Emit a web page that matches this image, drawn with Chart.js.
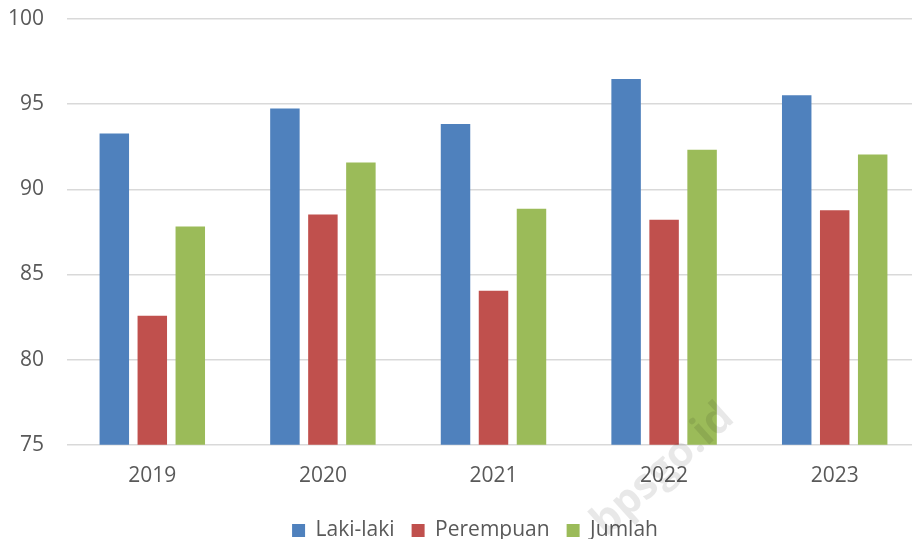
<!DOCTYPE html>
<html>
<head>
<meta charset="utf-8">
<script src="https://cdn.jsdelivr.net/npm/chart.js@4.4.1/dist/chart.umd.min.js"></script>
<style>
  html, body { margin: 0; padding: 0; background: #fff; overflow: hidden; }
  #wrap { position: relative; width: 950px; height: 539px; }
</style>
</head>
<body>
<div id="wrap"><canvas id="chart"></canvas></div>
<script>
// data per tahun
const tahun = ['2019', '2020', '2021', '2022', '2023'];
const lakiLaki = [93.28, 94.75, 93.84, 96.48, 95.52];
const perempuan = [82.58, 88.52, 84.04, 88.21, 88.77];
const jumlah = [87.81, 91.57, 88.86, 92.33, 92.04];
const yTicks = [75, 80, 85, 90, 95, 100];

const textColor = '#595959';
const fontFamily = '"Open Sans", "Liberation Sans", sans-serif';

// watermark tipis di tengah bawah
const watermark = {
  id: 'watermark',
  afterLayout(chart) {
    // biar label sumbu y tidak terpotong di kiri
    chart.scales.y.left = 0;
  },
  afterDatasetsDraw(chart) {
    const ctx = chart.ctx;
    ctx.save();
    ctx.translate(663, 470);
    ctx.rotate(-42 * Math.PI / 180);
    ctx.font = 'bold 42px ' + fontFamily;
    ctx.fillStyle = 'rgba(0,0,0,0.09)';
    ctx.textAlign = 'center';
    ctx.textBaseline = 'middle';
    ctx.fillText('bpsgo.id', 0, 0);
    ctx.restore();
  }
};

const ctx = document.getElementById('chart');

new Chart(ctx, {
  type: 'bar',
  data: {
    labels: tahun,
    datasets: [
      { label: 'Laki-laki', data: lakiLaki, backgroundColor: '#4F81BD' },
      { label: 'Perempuan', data: perempuan, backgroundColor: '#C0504D' },
      { label: 'Jumlah', data: jumlah, backgroundColor: '#9BBB59' }
    ]
  },
  options: {
    responsive: true,
    maintainAspectRatio: false,
    animation: false,
    layout: { padding: { left: 30, right: 30, top: 19, bottom: -12 } },
    datasets: {
      bar: { categoryPercentage: 0.668, barPercentage: 0.776 }
    },
    scales: {
      x: {
        grid: { display: false },
        border: { display: false },
        afterFit(scale) {
          scale.height += 3;
        },
        ticks: { color: textColor, font: { family: fontFamily, size: 21 }, padding: 11 }
      },
      y: {
        min: 75,
        max: 100,
        afterBuildTicks(scale) {
          scale.ticks = yTicks.map(v => ({ value: v }));
        },
        afterFit(scale) {
          scale.width = 37;
          scale.paddingTop = 0;
          scale.paddingBottom = 0;
        },
        grid: { color: '#d9d9d9', lineWidth: 1.5, drawTicks: false },
        border: { display: false },
        ticks: { color: textColor, font: { family: fontFamily, size: 21 }, padding: 23 }
      }
    },
    plugins: {
      legend: {
        position: 'bottom',
        labels: {
          color: textColor,
          font: { family: fontFamily, size: 21 },
          boxWidth: 13,
          boxHeight: 13,
          padding: 17
        }
      },
      tooltip: { enabled: false }
    }
  },
  plugins: [watermark]
});
</script>
</body>
</html>
